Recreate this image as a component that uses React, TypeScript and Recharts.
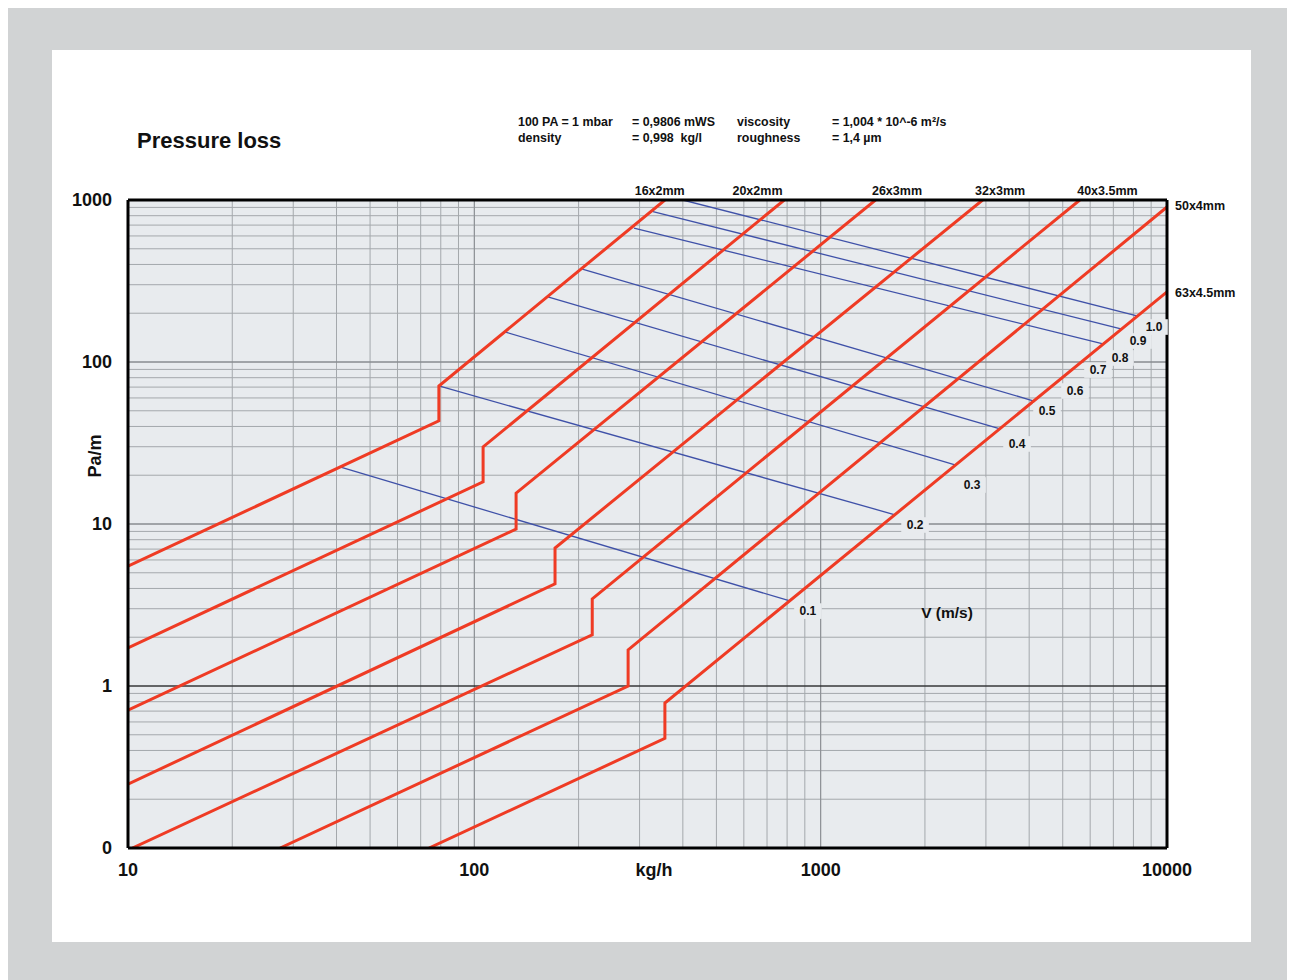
import React from 'react';
import {
  ComposedChart,
  Line,
  XAxis,
  YAxis,
  CartesianGrid,
  ReferenceLine,
  ReferenceDot,
} from 'recharts';

const FONT = '"Liberation Sans", Arial, Helvetica, sans-serif';

// ---- axis ticks ----
const xTicks = [
  10, 20, 30, 40, 50, 60, 70, 80, 90,
  100, 200, 300, 400, 500, 600, 700, 800, 900,
  1000, 2000, 3000, 4000, 5000, 6000, 7000, 8000, 9000, 10000,
];
const yTicks = [
  0.1, 0.2, 0.3, 0.4, 0.5, 0.6, 0.7, 0.8, 0.9,
  1, 2, 3, 4, 5, 6, 7, 8, 9,
  10, 20, 30, 40, 50, 60, 70, 80, 90,
  100, 200, 300, 400, 500, 600, 700, 800, 900, 1000,
];
const xMajorLabels: Record<number, string> = { 10: '10', 100: '100', 1000: '1000', 10000: '10000' };
const yMajorLabels: Record<number, string> = { 0.1: '0', 1: '1', 10: '10', 100: '100', 1000: '1000' };

// ---- pipe curves (kg/h, Pa/m) ----
const pipe16x2 = [
  { x: 10, y: 5.5 }, { x: 79, y: 43.3 }, { x: 79, y: 71.1 }, { x: 355, y: 1000 },
];
const pipe20x2 = [
  { x: 10, y: 1.72 }, { x: 106, y: 18.2 }, { x: 106, y: 29.9 }, { x: 785, y: 1000 },
];
const pipe26x3 = [
  { x: 10, y: 0.71 }, { x: 132, y: 9.3 }, { x: 132, y: 15.5 }, { x: 1440, y: 1000 },
];
const pipe32x3 = [
  { x: 10, y: 0.248 }, { x: 171, y: 4.27 }, { x: 171, y: 7.11 }, { x: 2935, y: 1000 },
];
const pipe40x35 = [
  { x: 10.3, y: 0.1 }, { x: 219, y: 2.07 }, { x: 219, y: 3.45 }, { x: 5600, y: 1000 },
];
const pipe50x4 = [
  { x: 27.5, y: 0.1 }, { x: 278, y: 1.0 }, { x: 278, y: 1.67 }, { x: 10000, y: 905 },
];
const pipe63x45 = [
  { x: 74, y: 0.1 }, { x: 355, y: 0.475 }, { x: 355, y: 0.785 }, { x: 10000, y: 271 },
];
const pipes = [pipe16x2, pipe20x2, pipe26x3, pipe32x3, pipe40x35, pipe50x4, pipe63x45];

// ---- velocity lines ----
const vel01 = [{ x: 40.9, y: 22.5 }, { x: 815, y: 3.35 }];
const vel02 = [{ x: 79, y: 71.1 }, { x: 1639, y: 11.4 }];
const vel03 = [{ x: 123, y: 153 }, { x: 2443, y: 23.2 }];
const vel04 = [{ x: 163, y: 252 }, { x: 3297, y: 38.6 }];
const vel05 = [{ x: 205, y: 375 }, { x: 4130, y: 57.4 }];
const vel08 = [{ x: 289, y: 671 }, { x: 6490, y: 130 }];
const vel09 = [{ x: 328, y: 847 }, { x: 7360, y: 160 }];
const vel10 = [{ x: 400, y: 1000 }, { x: 8240, y: 192 }];
const velLines = [vel01, vel02, vel03, vel04, vel05, vel08, vel09, vel10];

// ---- labels ----
const velLabels = [
  { text: '0.1', x: 919, y: 2.9 },
  { text: '0.2', x: 1873, y: 9.86 },
  { text: '0.3', x: 2735, y: 17.4 },
  { text: '0.4', x: 3690, y: 31.2 },
  { text: '0.5', x: 4504, y: 49.8 },
  { text: '0.6', x: 5425, y: 66.2 },
  { text: '0.7', x: 6321, y: 89.2 },
  { text: '0.8', x: 7317, y: 105.9 },
  { text: '0.9', x: 8247, y: 134.8 },
  { text: '1.0', x: 9173, y: 164.4 },
];
const topPipeLabels = [
  { text: '16x2mm', x: 343 },
  { text: '20x2mm', x: 657 },
  { text: '26x3mm', x: 1661 },
  { text: '32x3mm', x: 3297 },
  { text: '40x3.5mm', x: 6730 },
];
const rightPipeLabels = [
  { text: '50x4mm', y: 931 },
  { text: '63x4.5mm', y: 267 },
];

const RED = '#ef3b24';
const BLUE = '#3f51a8';
const PLOT_BG = '#e8ebee';
const GRID = '#a4a8ac';

const textShape = (
  text: string,
  dx: number,
  dy: number,
  size: number,
  anchor: 'start' | 'middle' | 'end',
  bg?: boolean,
  rotate?: number,
) => (props: any) => {
  const cx = props.cx + dx;
  const cy = props.cy + dy;
  const w = text.length * size * 0.6 + 6;
  return (
    <g>
      {bg ? (
        <rect x={cx - w / 2} y={cy - size * 0.65} width={w} height={size * 1.3} fill={PLOT_BG} />
      ) : null}
      <text
        x={cx}
        y={cy}
        dy="0.36em"
        textAnchor={anchor}
        fontFamily={FONT}
        fontWeight="bold"
        fontSize={size}
        fill="#111"
        transform={rotate ? `rotate(${rotate} ${cx} ${cy})` : undefined}
      >
        {text}
      </text>
    </g>
  );
};

export default function App() {
  return (
    <div
      style={{
        width: 1279,
        height: 975,
        background: '#d1d3d4',
        position: 'relative',
        fontFamily: FONT,
      }}
    >
      <div
        style={{
          position: 'absolute',
          left: 44,
          top: 42,
          width: 1199,
          height: 892,
          background: '#ffffff',
        }}
      >
        <svg
          width={1199}
          height={120}
          style={{ position: 'absolute', left: 0, top: 0 }}
          fontFamily={FONT}
          fontWeight="bold"
        >
          <text x={85} y={98} fontSize={22} fill="#111">Pressure loss</text>
          <g fontSize={12.4} fill="#111">
            <text x={466} y={75.5}>100 PA = 1 mbar</text>
            <text x={580} y={75.5}>= 0,9806 mWS</text>
            <text x={685} y={75.5}>viscosity</text>
            <text x={780} y={75.5}>= 1,004 * 10^-6 m²/s</text>
            <text x={466} y={91.5}>density</text>
            <text x={580} y={91.5} style={{ whiteSpace: 'pre' }}>= 0,998  kg/l</text>
            <text x={685} y={91.5}>roughness</text>
            <text x={780} y={91.5}>= 1,4 µm</text>
          </g>
        </svg>
        <div style={{ position: 'absolute', left: 0, top: 0 }}>
          <ComposedChart
            width={1199}
            height={892}
            margin={{ top: 150, right: 84, bottom: 64, left: 16 }}
          >
            <CartesianGrid stroke={GRID} strokeWidth={1} fill={PLOT_BG} fillOpacity={1} />
            <XAxis
              dataKey="x"
              type="number"
              scale="log"
              domain={[10, 10000]}
              allowDataOverflow
              ticks={xTicks}
              interval={0}
              height={30}
              tickSize={10}
              tickMargin={5}
              tickLine={false}
              axisLine={{ stroke: '#000', strokeWidth: 3 }}
              tickFormatter={(v: number) => xMajorLabels[v] ?? ''}
              tick={{ fontSize: 18, fontWeight: 'bold', fill: '#111', fontFamily: FONT }}
            />
            <YAxis
              dataKey="y"
              type="number"
              scale="log"
              domain={[0.1, 1000]}
              allowDataOverflow
              ticks={yTicks}
              interval={0}
              width={60}
              tickSize={10}
              tickMargin={6}
              tickLine={false}
              axisLine={{ stroke: '#000', strokeWidth: 3 }}
              tickFormatter={(v: number) => yMajorLabels[v] ?? ''}
              tick={{ fontSize: 18, fontWeight: 'bold', fill: '#111', fontFamily: FONT }}
            />
            <ReferenceLine x={100} stroke="#8a8e92" strokeWidth={1} />
            <ReferenceLine x={1000} stroke="#8a8e92" strokeWidth={1} />
            <ReferenceLine y={10} stroke="#7a7e82" strokeWidth={1} />
            <ReferenceLine y={100} stroke="#7a7e82" strokeWidth={1} />
            <ReferenceLine y={1} stroke="#000" strokeWidth={1} />
            {velLines.map((d, i) => (
              <Line
                key={'v' + i}
                data={d}
                dataKey="y"
                type="linear"
                stroke={BLUE}
                strokeWidth={1.3}
                dot={false}
                activeDot={false}
                isAnimationActive={false}
              />
            ))}
            {pipes.map((d, i) => (
              <Line
                key={'p' + i}
                data={d}
                dataKey="y"
                type="linear"
                stroke={RED}
                strokeWidth={3}
                strokeLinejoin="miter"
                dot={false}
                activeDot={false}
                isAnimationActive={false}
              />
            ))}
            <ReferenceLine y={1000} stroke="#000" strokeWidth={3} ifOverflow="visible" />
            <ReferenceLine x={10000} stroke="#000" strokeWidth={3} ifOverflow="visible" />
            {velLabels.map((l) => (
              <ReferenceDot
                key={'vl' + l.text}
                x={l.x}
                y={l.y}
                r={0}
                ifOverflow="visible"
                shape={textShape(l.text, 0, 0, 12, 'middle', true)}
              />
            ))}
            {topPipeLabels.map((l) => (
              <ReferenceDot
                key={'tl' + l.text}
                x={l.x}
                y={1000}
                r={0}
                ifOverflow="visible"
                shape={textShape(l.text, 0, -10, 12.5, 'middle')}
              />
            ))}
            {rightPipeLabels.map((l) => (
              <ReferenceDot
                key={'rl' + l.text}
                x={10000}
                y={l.y}
                r={0}
                ifOverflow="visible"
                shape={textShape(l.text, 8, 0, 12.5, 'start')}
              />
            ))}
            <ReferenceDot
              x={2317}
              y={2.86}
              r={0}
              ifOverflow="visible"
              shape={textShape('V (m/s)', 0, 0, 15.5, 'middle')}
            />
            <ReferenceDot
              x={330}
              y={0.1}
              r={0}
              ifOverflow="visible"
              shape={textShape('kg/h', 0, 22, 18, 'middle')}
            />
            <ReferenceDot
              x={10}
              y={26.3}
              r={0}
              ifOverflow="visible"
              shape={textShape('Pa/m', -33, 0, 18, 'middle', false, -90)}
            />
          </ComposedChart>
        </div>
      </div>
    </div>
  );
}
